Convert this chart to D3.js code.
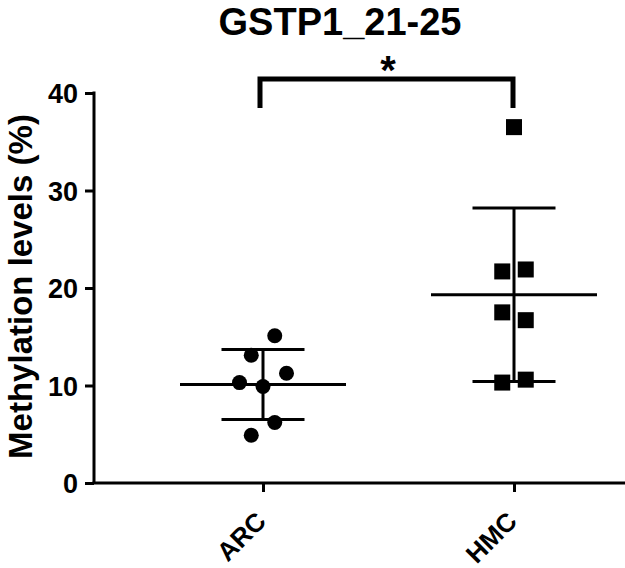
<!DOCTYPE html>
<html><head><meta charset="utf-8">
<script src="https://cdn.jsdelivr.net/npm/d3@7"></script>
<style>body{margin:0;background:#fff}svg{display:block}text{font-family:"Liberation Sans",Arial,sans-serif;font-weight:bold;fill:#000}</style>
</head><body>
<script>
const categories = ["ARC", "HMC"];
const arcValues = [15.1, 13.1, 11.25, 10.3, 9.9, 6.2, 4.9];
const arcOffsets = [0.5, -0.5, 1, -1, 0, 0.5, -0.5];
const hmcValues = [36.5, 21.7, 21.9, 17.5, 16.7, 10.3, 10.6];
const hmcOffsets = [0, -0.5, 0.5, -0.5, 0.5, -0.5, 0.5];
const yTicks = [0, 10, 20, 30, 40];
const title = "GSTP1_21-25";
const yLabel = "Methylation levels (%)";
const sigLabel = "*";

const W = 625, H = 568;
const svg = d3.select("body").append("svg").attr("width", W).attr("height", H);

const xp = d3.scalePoint().domain(categories).range([263, 514]);
const y = d3.scaleLinear().domain([0, 40]).range([483, 93]);
const axX = 94;

// axes
const yAxis = svg.append("g").attr("transform", `translate(${axX},0)`)
  .call(d3.axisLeft(y).tickValues(yTicks).tickSize(9).tickPadding(7).tickFormat(d3.format("d")));
yAxis.select(".domain").attr("stroke-width", 3).attr("d", `M0,${y(40)-1.5}V${y(0)}`);
yAxis.selectAll(".tick line").attr("stroke-width", 3);
yAxis.selectAll(".tick text").style("font-size", "27px").attr("dy", "0.36em");

const xAxis = svg.append("g").attr("transform", `translate(0,${y(0)})`)
  .call(d3.axisBottom(xp).tickSize(9).tickSizeOuter(0));
xAxis.select(".domain").attr("stroke-width", 3).attr("d", `M${axX - 1.5},0H625`);
xAxis.selectAll(".tick line").attr("stroke-width", 3);
xAxis.selectAll(".tick text").style("font-size", "26px")
  .attr("text-anchor", "end").attr("dy", 0).attr("y", 0)
  .attr("transform", "translate(4,40) rotate(-45)");

// title
svg.append("text").attr("x", 340).attr("y", 35).attr("text-anchor", "middle")
  .style("font-size", "38px").text(title);
// y label
svg.append("text").attr("transform", `translate(32,${(455 + 118) / 2}) rotate(-90)`)
  .attr("text-anchor", "middle").style("font-size", "33px").text(yLabel);

function stats(v){ return {m: d3.mean(v), s: d3.deviation(v)}; }
const groups = [
  {cat: "ARC", values: arcValues, offsets: arcOffsets, shape: "circle"},
  {cat: "HMC", values: hmcValues, offsets: hmcOffsets, shape: "square"}
];
const jitter = 23.5;
groups.forEach(g => {
  const cx = xp(g.cat);
  const {m, s} = stats(g.values);
  const gg = svg.append("g");
  g.values.forEach((v, i) => {
    const px = cx + g.offsets[i] * jitter;
    if (g.shape === "circle") gg.append("circle").attr("cx", px).attr("cy", y(v)).attr("r", 7.5).attr("fill", "#000");
    else gg.append("rect").attr("x", px - 8).attr("y", y(v) - 8).attr("width", 16).attr("height", 16).attr("fill", "#000");
  });
  gg.append("line").attr("x1", cx).attr("x2", cx).attr("y1", y(m + s)).attr("y2", y(m - s)).attr("stroke", "#000").attr("stroke-width", 3);
  gg.append("line").attr("x1", cx - 83).attr("x2", cx + 83).attr("y1", y(m)).attr("y2", y(m)).attr("stroke", "#000").attr("stroke-width", 3);
  [m + s, m - s].forEach(v => gg.append("line").attr("x1", cx - 41.5).attr("x2", cx + 41.5).attr("y1", y(v)).attr("y2", y(v)).attr("stroke", "#000").attr("stroke-width", 3));
});

// significance bracket
const bx1 = xp("ARC") - 3, bx2 = xp("HMC") - 1, by = 79, bb = 108;
svg.append("path").attr("d", `M${bx1},${bb}V${by}H${bx2}V${bb}`).attr("fill", "none").attr("stroke", "#000").attr("stroke-width", 5);
svg.append("text").attr("x", 388).attr("y", 84).attr("text-anchor", "middle").style("font-size", "40px").text(sigLabel);
</script>
</body></html>
